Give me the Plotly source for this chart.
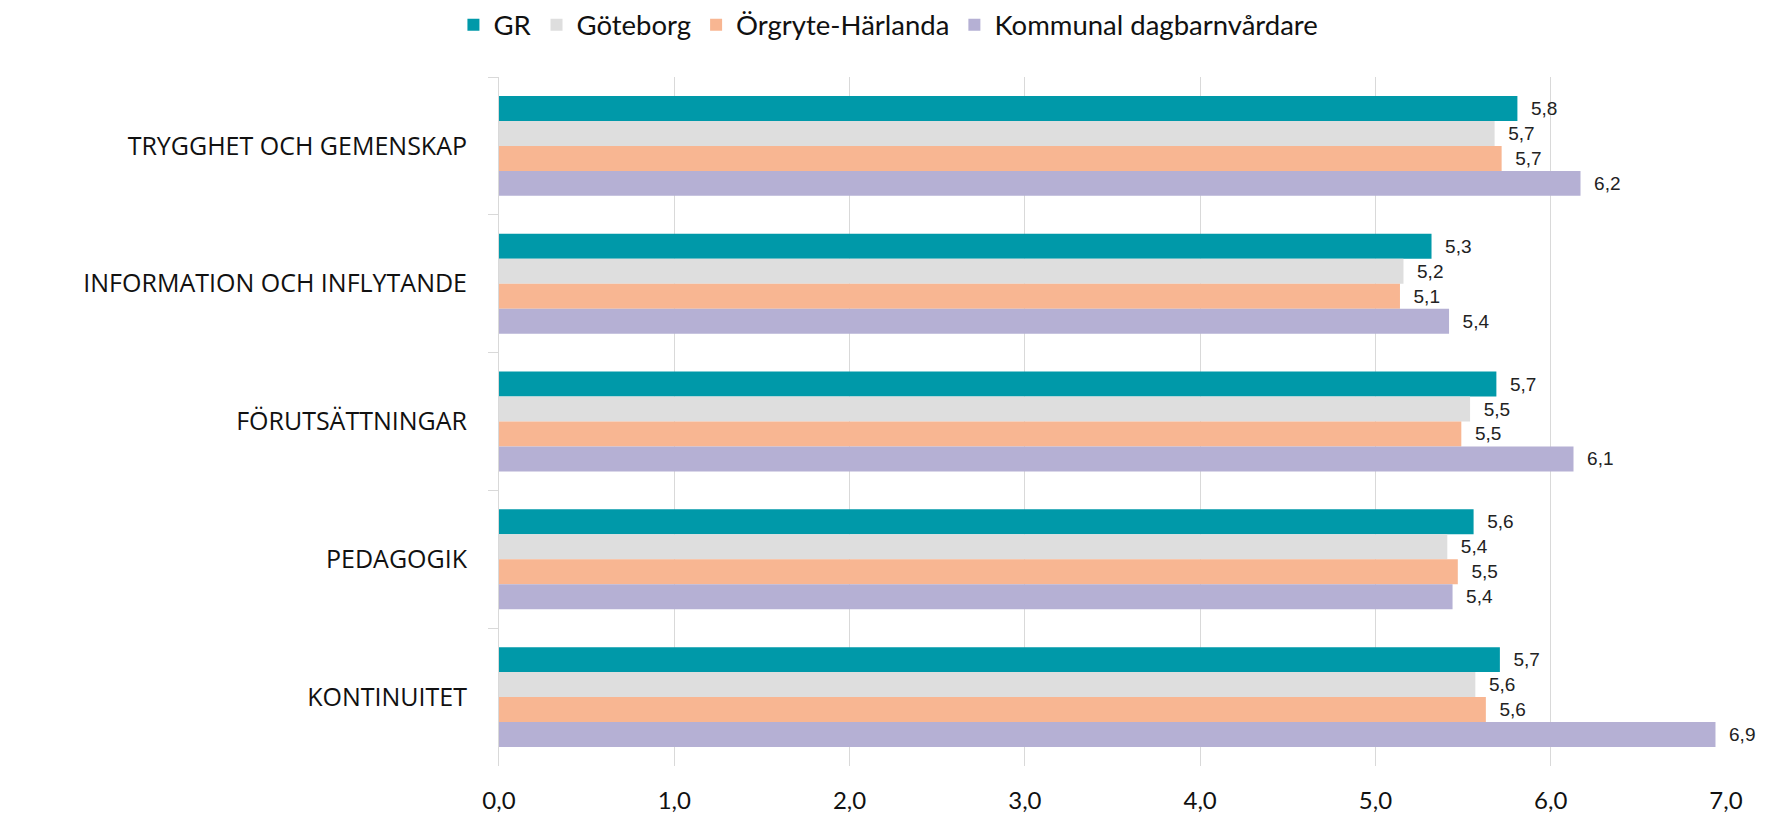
import plotly.graph_objects as go

categories = ["TRYGGHET OCH GEMENSKAP", "INFORMATION OCH INFLYTANDE", "FÖRUTSÄTTNINGAR", "PEDAGOGIK", "KONTINUITET"]
series_names = ["GR", "Göteborg", "Örgryte-Härlanda", "Kommunal dagbarnvårdare"]
gr = [5.81, 5.32, 5.69, 5.56, 5.71]
goteborg = [5.68, 5.16, 5.54, 5.41, 5.57]
orgryte = [5.72, 5.14, 5.49, 5.47, 5.63]
kommunal = [6.17, 5.42, 6.13, 5.44, 6.94]
colors = ["#0099A9", "#DEDEDE", "#F8B692", "#B5B0D4"]
x_ticks = [0, 1, 2, 3, 4, 5, 6, 7]

fig = go.Figure()
for name, vals, col in zip(series_names, [gr, goteborg, orgryte, kommunal], colors):
    fig.add_trace(go.Bar(
        y=categories, x=vals, name=name, orientation="h",
        marker=dict(color=col, line=dict(width=0)),
        texttemplate="\u00a0\u00a0%{x:.1f}", textposition="outside",
        textfont=dict(family="Liberation Sans, Arial", size=19, color="#222222"),
        cliponaxis=False,
    ))

# page body has an 8px margin: figure is sized so it fits the window exactly
fig.update_layout(
    width=1757, height=806,
    barmode="group", bargap=0.275, bargroupgap=0,
    separators=", ",
    plot_bgcolor="white", paper_bgcolor="white",
    margin=dict(l=491, r=39, t=69, b=48, autoexpand=False),
    legend=dict(orientation="h", xref="container", yref="container",
                x=0.5011, xanchor="center", y=0.9792, yanchor="middle",
                font=dict(family="Lato, Carlito, sans-serif", size=27.5, color="#111111"),
                traceorder="normal", itemwidth=30),
    xaxis=dict(range=[0, 7], tickvals=x_ticks, tickformat=".1f",
               showgrid=True, gridcolor="#D9D9D9", gridwidth=1,
               zeroline=False, showline=False, ticks="", ticklabelstandoff=18,
               tickfont=dict(family="Lato, Carlito, sans-serif", size=24, color="#111111")),
    yaxis=dict(autorange="reversed", showline=True, linecolor="#D9D9D9", linewidth=1,
               ticks="outside", tickson="boundaries", ticklen=10, tickcolor="#D9D9D9",
               showgrid=False, ticklabelstandoff=26,
               tickfont=dict(family="Open Sans, sans-serif", size=25, color="#111111")),
    showlegend=True,
)

fig.write_html("out.html")
